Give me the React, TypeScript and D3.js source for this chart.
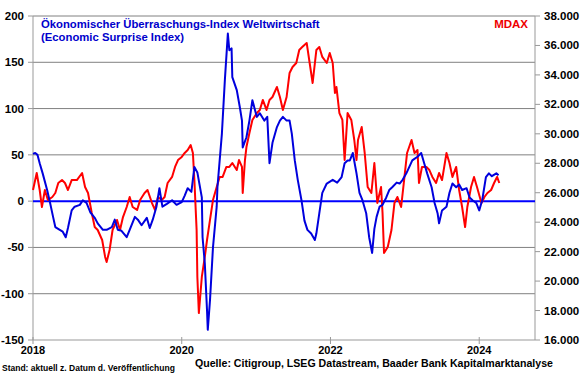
import React from "react";
import * as d3 from "d3";

// Economic Surprise Index (left axis) — decimal year / value
const esiYears = [
  2018.0, 2018.03, 2018.06, 2018.09, 2018.13, 2018.19, 2018.23, 2018.27, 2018.3, 2018.36, 2018.4, 2018.44,
  2018.47, 2018.52, 2018.56, 2018.63, 2018.67, 2018.72, 2018.77, 2018.83, 2018.87, 2018.94, 2018.99,
  2019.06, 2019.1, 2019.14, 2019.19, 2019.26, 2019.3, 2019.37, 2019.41, 2019.46, 2019.53, 2019.57,
  2019.61, 2019.66, 2019.7, 2019.74, 2019.8, 2019.87, 2019.93, 2020.0, 2020.04, 2020.08, 2020.13,
  2020.17, 2020.21, 2020.27, 2020.28, 2020.31, 2020.34, 2020.35, 2020.38, 2020.42, 2020.47, 2020.48,
  2020.54, 2020.58, 2020.62, 2020.64, 2020.67, 2020.68, 2020.74, 2020.78, 2020.81, 2020.82, 2020.87,
  2020.91, 2020.95, 2021.01, 2021.05, 2021.11, 2021.15, 2021.18, 2021.22, 2021.28, 2021.32, 2021.36,
  2021.41, 2021.45, 2021.48, 2021.52, 2021.56, 2021.61, 2021.65, 2021.69, 2021.74, 2021.79, 2021.81,
  2021.85, 2021.89, 2021.95, 2022.03, 2022.09, 2022.15, 2022.19, 2022.23, 2022.26, 2022.3, 2022.35,
  2022.39, 2022.43, 2022.48, 2022.52, 2022.56, 2022.59, 2022.62, 2022.66, 2022.7, 2022.75, 2022.79,
  2022.83, 2022.89, 2022.93, 2022.97, 2023.02, 2023.06, 2023.1, 2023.17, 2023.22, 2023.26, 2023.3,
  2023.36, 2023.4, 2023.44, 2023.46, 2023.5, 2023.56, 2023.6, 2023.64, 2023.69, 2023.73, 2023.77,
  2023.83, 2023.87, 2023.91, 2023.96, 2024.0, 2024.04, 2024.09, 2024.13, 2024.17, 2024.23, 2024.26,
];
const esiValues = [
  51, 52, 50, 41, 30, 12, -2, -17, -28, -31, -33, -39,
  -29, -10, -6, -4, 1, -2, -12, -18, -24, -31, -31,
  -28, -20, -31, -32, -39, -31, -17, -20, -26, -18, -29,
  -20, -6, 14, -6, -3, 1, -4, -1, 6, 14, 10,
  37, 31, 4, -39, -67, -118, -139, -107, -50, -6, 15,
  73, 131, 181, 163, 165, 134, 120, 102, 87, 58, 69,
  87, 109, 91, 95, 87, 91, 41, 63, 80, 87, 91,
  87, 87, 73, 44, 23, 1, -21, -31, -35, -42, -35,
  -13, 9, 19, 23, 20, 26, 41, 44, 44, 52, 30,
  9, 1, -13, -39, -56, -30, -17, -6, -4, 4, 12,
  15, 20, 19, 23, 30, 37, 44, 48, 52, 41, 30,
  15, -2, -13, -24, -10, -6, 9, 19, 15, 18, 12,
  14, 4, 1, -2, -10, 1, 26, 30, 27, 30, 28,
];

// MDAX (right axis)
const mdaxYears = [
  2018.0, 2018.05, 2018.09, 2018.12, 2018.16, 2018.2, 2018.26, 2018.3, 2018.34, 2018.39, 2018.43, 2018.47,
  2018.52, 2018.59, 2018.66, 2018.7, 2018.74, 2018.79, 2018.83, 2018.87, 2018.93, 2018.97, 2018.99,
  2019.03, 2019.07, 2019.13, 2019.17, 2019.21, 2019.26, 2019.3, 2019.34, 2019.4, 2019.44, 2019.5,
  2019.54, 2019.6, 2019.64, 2019.68, 2019.73, 2019.77, 2019.81, 2019.87, 2019.91, 2019.95, 2020.0,
  2020.04, 2020.08, 2020.12, 2020.15, 2020.17, 2020.2, 2020.21, 2020.23, 2020.27, 2020.31, 2020.34,
  2020.38, 2020.42, 2020.47, 2020.51, 2020.55, 2020.6, 2020.64, 2020.68, 2020.74, 2020.77, 2020.81,
  2020.82, 2020.85, 2020.87, 2020.91, 2020.95, 2021.01, 2021.05, 2021.09, 2021.14, 2021.18, 2021.22,
  2021.28, 2021.32, 2021.36, 2021.41, 2021.45, 2021.49, 2021.54, 2021.58, 2021.62, 2021.68, 2021.72,
  2021.76, 2021.81, 2021.85, 2021.89, 2021.95, 2021.99, 2022.03, 2022.06, 2022.08, 2022.12, 2022.16,
  2022.19, 2022.21, 2022.23, 2022.28, 2022.32, 2022.35, 2022.37, 2022.42, 2022.46, 2022.5, 2022.55,
  2022.59, 2022.63, 2022.68, 2022.7, 2022.72, 2022.77, 2022.82, 2022.86, 2022.9, 2022.95, 2022.99,
  2023.03, 2023.09, 2023.13, 2023.17, 2023.19, 2023.23, 2023.29, 2023.33, 2023.37, 2023.42, 2023.46,
  2023.5, 2023.56, 2023.6, 2023.64, 2023.69, 2023.73, 2023.77, 2023.81, 2023.84, 2023.89, 2023.93,
  2023.97, 2024.03, 2024.07, 2024.11, 2024.16, 2024.2, 2024.24, 2024.27,
];
const mdaxValues = [
  26185, 27340, 26185, 25030, 26185, 25500, 25710, 25980, 26660, 26860, 26660, 26185,
  26860, 26860, 27340, 26390, 25980, 24620, 23670, 23470, 22790, 21640, 21300,
  22110, 23470, 24150, 23470, 24350, 25030, 25710, 25030, 24830, 25500, 25980,
  26185, 25300, 24830, 25710, 25500, 25710, 26660, 27070, 27750, 28220, 28430,
  28700, 28900, 29240, 28700, 26860, 23470, 20280, 17830, 20280, 21640, 22790,
  24150, 25500, 26390, 27070, 27070, 27750, 27750, 28020, 27540, 28220, 27750,
  25980, 28220, 29100, 30060, 30940, 31410, 31620, 32300, 31620, 32300, 32500,
  33180, 32500, 31620, 32500, 34130, 34540, 34810, 35690, 35890, 36170, 34810,
  33450, 35690, 35890, 35220, 34810, 35490, 34810, 32770, 33180, 31410, 30940,
  28220, 29780, 31410, 30940, 29580, 28220, 29580, 30460, 28700, 26390, 25980,
  28020, 25300, 26390, 24620, 21910, 22320, 23470, 25300, 25710, 25030, 26860,
  28700, 29580, 28700, 28900, 26660, 27750, 27750, 27540, 27070, 26660, 27340,
  26860, 28700, 28020, 27070, 27750, 26185, 25030, 23670, 25030, 26390, 27070,
  26390, 25300, 25710, 25980, 26185, 26660, 27070, 26660,
];

const leftTicks = [200, 150, 100, 50, 0, -50, -100, -150];
const rightTicks = [38000, 36000, 34000, 32000, 30000, 28000, 26000, 24000, 22000, 20000, 18000, 16000];
const xTicks = [2018, 2020, 2022, 2024];
const gridValues = [200, 150, 100, 50, -50, -100];

const W = 580;
const H = 375;
const FONT = "'Liberation Sans', Arial, sans-serif";

export default function App() {
  const x = d3.scaleLinear().domain([2018, 2024.75]).range([33, 535]);
  const yL = d3.scaleLinear().domain([-150, 200]).range([340, 16]);
  const yR = d3.scaleLinear().domain([16000, 38000]).range([340, 16]);

  const esiLine = d3
    .line<number>()
    .x((_, i) => x(esiYears[i]))
    .y((d) => yL(d));
  const mdaxLine = d3
    .line<number>()
    .x((_, i) => x(mdaxYears[i]))
    .y((d) => yR(d));

  const fmt = (v: number) => d3.format(",")(v).replace(/,/g, ".");

  return (
    <svg
      width={W}
      height={H}
      style={{ position: "absolute", left: 0, top: 0, background: "#fff" }}
      fontFamily={FONT}
    >
      <rect x={0} y={0} width={W} height={H} fill="#fff" />
      {gridValues.map((v) => (
        <line key={v} x1={x(2018)} x2={x(2024.75)} y1={yL(v)} y2={yL(v)} stroke="#808080" strokeWidth={1} />
      ))}
      {/* axes */}
      <line x1={x(2018)} x2={x(2018)} y1={yL(200)} y2={yL(-150)} stroke="#999" strokeWidth={1} />
      <line x1={x(2024.75)} x2={x(2024.75)} y1={yR(38000)} y2={yR(16000)} stroke="#999" strokeWidth={1} />
      <line x1={x(2018)} x2={x(2024.75)} y1={yL(-150)} y2={yL(-150)} stroke="#999" strokeWidth={1} />
      {leftTicks.map((v) => (
        <g key={v}>
          <line x1={x(2018) - 5} x2={x(2018)} y1={yL(v)} y2={yL(v)} stroke="#999" />
          <text x={24} y={yL(v)} dy="0.35em" textAnchor="end" fontSize={11.5} fontWeight="bold" fill="#000">
            {v}
          </text>
        </g>
      ))}
      {rightTicks.map((v) => (
        <g key={v}>
          <line x1={x(2024.75)} x2={x(2024.75) + 5} y1={yR(v)} y2={yR(v)} stroke="#999" />
          <text x={544} y={yR(v)} dy="0.35em" textAnchor="start" fontSize={11.5} fontWeight="bold" fill="#000">
            {fmt(v)}
          </text>
        </g>
      ))}
      {xTicks.map((t) => (
        <g key={t}>
          <line x1={x(t)} x2={x(t)} y1={yL(-150) - 3} y2={yL(-150) + 4} stroke="#999" />
          <text x={x(t)} y={354} textAnchor="middle" fontSize={11} fontWeight="bold" fill="#000">
            {t}
          </text>
        </g>
      ))}
      {/* zero line */}
      <line x1={x(2018)} x2={x(2024.75)} y1={yL(0)} y2={yL(0)} stroke="#0000ff" strokeWidth={2} />
      <path d={mdaxLine(mdaxValues) || ""} fill="none" stroke="#ff0000" strokeWidth={2} strokeLinejoin="round" />
      <path d={esiLine(esiValues) || ""} fill="none" stroke="#0000dd" strokeWidth={2} strokeLinejoin="round" />
      {/* titles */}
      <text x={41} y={28} fontSize={11.3} fontWeight="bold" fill="#0000cc">
        Ökonomischer Überraschungs-Index Weltwirtschaft
      </text>
      <text x={41} y={41} fontSize={11.3} fontWeight="bold" fill="#0000cc">
        (Economic Surprise Index)
      </text>
      <text x={528} y={28} fontSize={11.5} fontWeight="bold" fill="#ee0000" textAnchor="end">
        MDAX
      </text>
      <text x={2} y={371} fontSize={8.5} fontWeight="bold" fill="#000">
        Stand: aktuell z. Datum d. Veröffentlichung
      </text>
      <text x={195} y={367} fontSize={10.6} fontWeight="bold" fill="#000">
        Quelle: Citigroup, LSEG Datastream, Baader Bank Kapitalmarktanalyse
      </text>
    </svg>
  );
}
